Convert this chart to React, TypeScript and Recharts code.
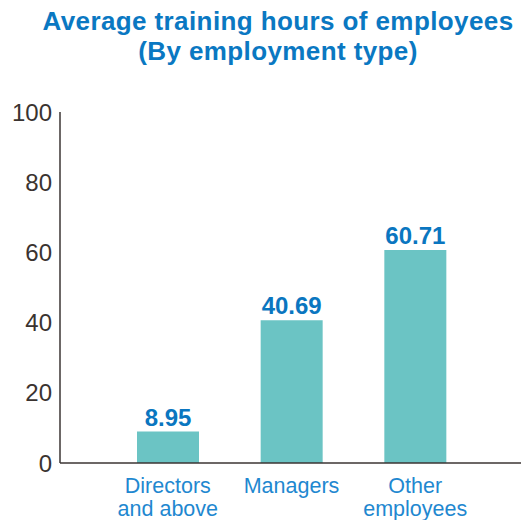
import React from 'react';
import { BarChart, Bar, XAxis, YAxis, LabelList } from 'recharts';

const categories = ['Directors\nand above', 'Managers', 'Other\nemployees'];
const hours = [8.95, 40.69, 60.71];
const yTicks = [0, 20, 40, 60, 80, 100];

const data = categories.map((name, i) => ({ name, hours: hours[i] }));

const FONT = '"Liberation Sans", Arial, Helvetica, sans-serif';

const CategoryTick = (props: any) => {
    const { x, y, payload } = props;
    const lines = String(payload.value).split('\n');
    return (
        <text x={x} y={y} textAnchor="middle" fill="#1f88d0" fontSize={21.5} fontFamily={FONT}>
            {lines.map((line, i) => (
                <tspan key={i} x={x} dy={i === 0 ? 22 : 23}>{line}</tspan>
            ))}
        </text>
    );
};

export default function App() {
    return (
        <div style={{ position: 'absolute', left: 0, top: 0, width: 521, height: 520, background: '#fff' }}>
            <div
                style={{
                    position: 'absolute',
                    left: 0,
                    top: 6,
                    width: 556,
                    textAlign: 'center',
                    color: '#0a78c2',
                    fontFamily: FONT,
                    fontWeight: 'bold',
                    fontSize: 26,
                    letterSpacing: 0.4,
                    lineHeight: '30px',
                    whiteSpace: 'nowrap',
                }}
            >
                Average training hours of employees
                <br />
                (By employment type)
            </div>
            <BarChart
                width={521}
                height={520}
                data={data}
                margin={{ top: 112, right: 0, bottom: 0, left: 0 }}
            >
                <XAxis
                    dataKey="name"
                    axisLine={{ stroke: '#3b3533', strokeWidth: 1.5 }}
                    tickLine={false}
                    tick={<CategoryTick />}
                    height={57}
                    padding={{ left: 46, right: 44 }}
                    interval={0}
                />
                <YAxis
                    domain={[0, 100]}
                    ticks={yTicks}
                    width={60}
                    axisLine={{ stroke: '#3b3533', strokeWidth: 1.5 }}
                    tickLine={false}
                    tick={{ fill: '#3a3330', fontSize: 24, fontFamily: FONT }}
                    tickMargin={2}
                />
                <Bar dataKey="hours" fill="#6bc4c4" barSize={62} isAnimationActive={false}>
                    <LabelList
                        dataKey="hours"
                        position="top"
                        offset={6}
                        fill="#0a76c0"
                        fontSize={24}
                        fontWeight="bold"
                        fontFamily={FONT}
                    />
                </Bar>
            </BarChart>
        </div>
    );
}
